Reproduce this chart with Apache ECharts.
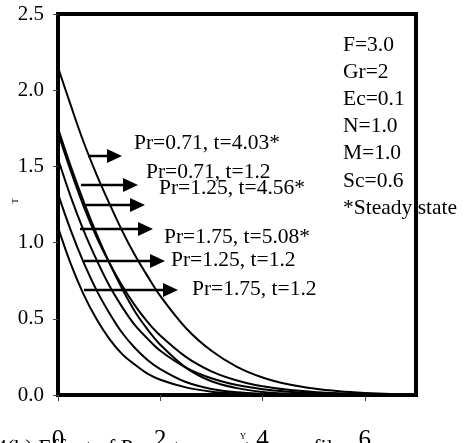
<!DOCTYPE html>
<html>
<head>
<meta charset="utf-8">
<script src="https://cdn.jsdelivr.net/npm/echarts@6/dist/echarts.min.js"></script>
<style>
html,body{margin:0;padding:0;background:#fff;}
#c{width:466px;height:443px;}
</style>
</head>
<body>
<div id="c"></div>
<script>
// Data
const yPos = [0,0.25,0.5,0.75,1,1.25,1.5,1.75,2,2.5,3,3.5,4,4.5,5,5.5,6,6.5,7];
const seriesNames = ['Pr=0.71, t=4.03*','Pr=0.71, t=1.2','Pr=1.25, t=4.56*','Pr=1.75, t=5.08*','Pr=1.25, t=1.2','Pr=1.75, t=1.2'];
const tPr071Steady = [2.15,1.90,1.66,1.45,1.26,1.08,0.92,0.78,0.65,0.44,0.29,0.185,0.115,0.07,0.042,0.024,0.013,0.006,0.003];
const tPr071T12    = [1.75,1.50,1.27,1.06,0.87,0.70,0.55,0.43,0.33,0.18,0.09,0.045,0.02,0.009,0.004,0.002,0.001,0,0];
const tPr125Steady = [1.72,1.47,1.24,1.04,0.87,0.72,0.59,0.48,0.39,0.25,0.155,0.095,0.057,0.034,0.02,0.011,0.006,0.003,0.001];
const tPr175Steady = [1.55,1.30,1.08,0.89,0.72,0.58,0.46,0.37,0.29,0.18,0.11,0.065,0.038,0.022,0.012,0.007,0.004,0.002,0.001];
const tPr125T12    = [1.32,1.08,0.87,0.69,0.54,0.41,0.31,0.23,0.17,0.085,0.04,0.018,0.008,0.003,0.001,0,0,0,0];
const tPr175T12    = [1.10,0.86,0.66,0.50,0.37,0.27,0.20,0.14,0.10,0.05,0.022,0.01,0.004,0.002,0.001,0,0,0,0];
const allCurves = [tPr071Steady,tPr071T12,tPr125Steady,tPr175Steady,tPr125T12,tPr175T12];
const paramLines = ['F=3.0','Gr=2','Ec=0.1','N=1.0','M=1.0','Sc=0.6','*Steady state'];
const xAxisTitle = 'Y';
const yAxisTitle = 'T';
const caption = '4(b) Effect of Pr on temperature profiles';

const FONT = "'Liberation Serif','Times New Roman',serif";
const chart = echarts.init(document.getElementById('c'));

const series = allCurves.map((vals, k) => ({
  name: seriesNames[k],
  type: 'line',
  data: yPos.map((x, i) => [x, vals[i]]),
  showSymbol: false,
  smooth: 0.35,
  lineStyle: {color: '#000', width: 2},
  silent: true,
  z: 3
}));

// annotation layout (pixels)
const arrowDefs = [
  {x1: 88, tip: 122, y: 156, lx: 134, ly: 143},
  {x1: 81, tip: 138, y: 185, lx: 146, ly: 172},
  {x1: 86, tip: 145, y: 205, lx: 159, ly: 188},
  {x1: 80, tip: 153, y: 229, lx: 164, ly: 237},
  {x1: 84, tip: 165, y: 261, lx: 171, ly: 260},
  {x1: 84, tip: 178, y: 290, lx: 192, ly: 289}
];
const graphics = [];
arrowDefs.forEach((a, k) => {
  graphics.push({type: 'line', shape: {x1: a.x1, y1: a.y, x2: a.tip - 12, y2: a.y}, style: {stroke: '#000', lineWidth: 2.5}, z: 10});
  graphics.push({type: 'polygon', shape: {points: [[a.tip - 15, a.y - 7], [a.tip, a.y], [a.tip - 15, a.y + 7]]}, style: {fill: '#000'}, z: 10});
  graphics.push({type: 'text', x: a.lx, y: a.ly, style: {text: seriesNames[k], font: '21.5px ' + FONT, fill: '#000', textVerticalAlign: 'middle', textAlign: 'left'}, z: 10});
});
paramLines.forEach((t, i) => {
  graphics.push({type: 'text', x: 343, y: 45 + i * 27.2, style: {text: t, font: '21.5px ' + FONT, fill: '#000', textVerticalAlign: 'middle', textAlign: 'left'}, z: 5});
});
graphics.push({type: 'text', x: -4, y: 437, style: {text: caption, font: '22px ' + FONT, fill: '#000', textVerticalAlign: 'top', textAlign: 'left'}, z: 1});
graphics.push({type: 'text', x: 243, y: 437, style: {text: xAxisTitle, font: '9px ' + FONT, fill: '#000', textVerticalAlign: 'middle', textAlign: 'center'}, z: 12});
graphics.push({type: 'text', x: 16, y: 201, rotation: Math.PI / 2, style: {text: yAxisTitle, font: '9px ' + FONT, fill: '#000', textVerticalAlign: 'middle', textAlign: 'center'}, z: 12});

chart.setOption({
  animation: false,
  backgroundColor: '#fff',
  textStyle: {fontFamily: FONT},
  grid: {left: 58, right: 50, top: 14, bottom: 48, show: true, borderColor: '#000', borderWidth: 4, containLabel: false, outerBoundsMode: 'none'},
  xAxis: {
    type: 'value', min: 0, max: 7, interval: 2,
    axisLine: {show: true, onZero: false, lineStyle: {color: '#000', width: 4}},
    axisTick: {show: true, inside: false, length: 6, lineStyle: {color: '#444', width: 1}},
    axisLabel: {fontSize: 25, color: '#000', fontFamily: FONT, margin: 33, showMaxLabel: false},
    splitLine: {show: false}
  },
  yAxis: {
    type: 'value', min: 0, max: 2.5, interval: 0.5,
    axisLine: {show: true, onZero: false, lineStyle: {color: '#000', width: 4}},
    axisTick: {show: true, inside: false, length: 5, lineStyle: {color: '#444', width: 1}},
    axisLabel: {fontSize: 21, color: '#000', fontFamily: FONT, margin: 14, formatter: v => v.toFixed(1)},
    splitLine: {show: false}
  },
  series: series,
  graphic: graphics
});
</script>
</body>
</html>
